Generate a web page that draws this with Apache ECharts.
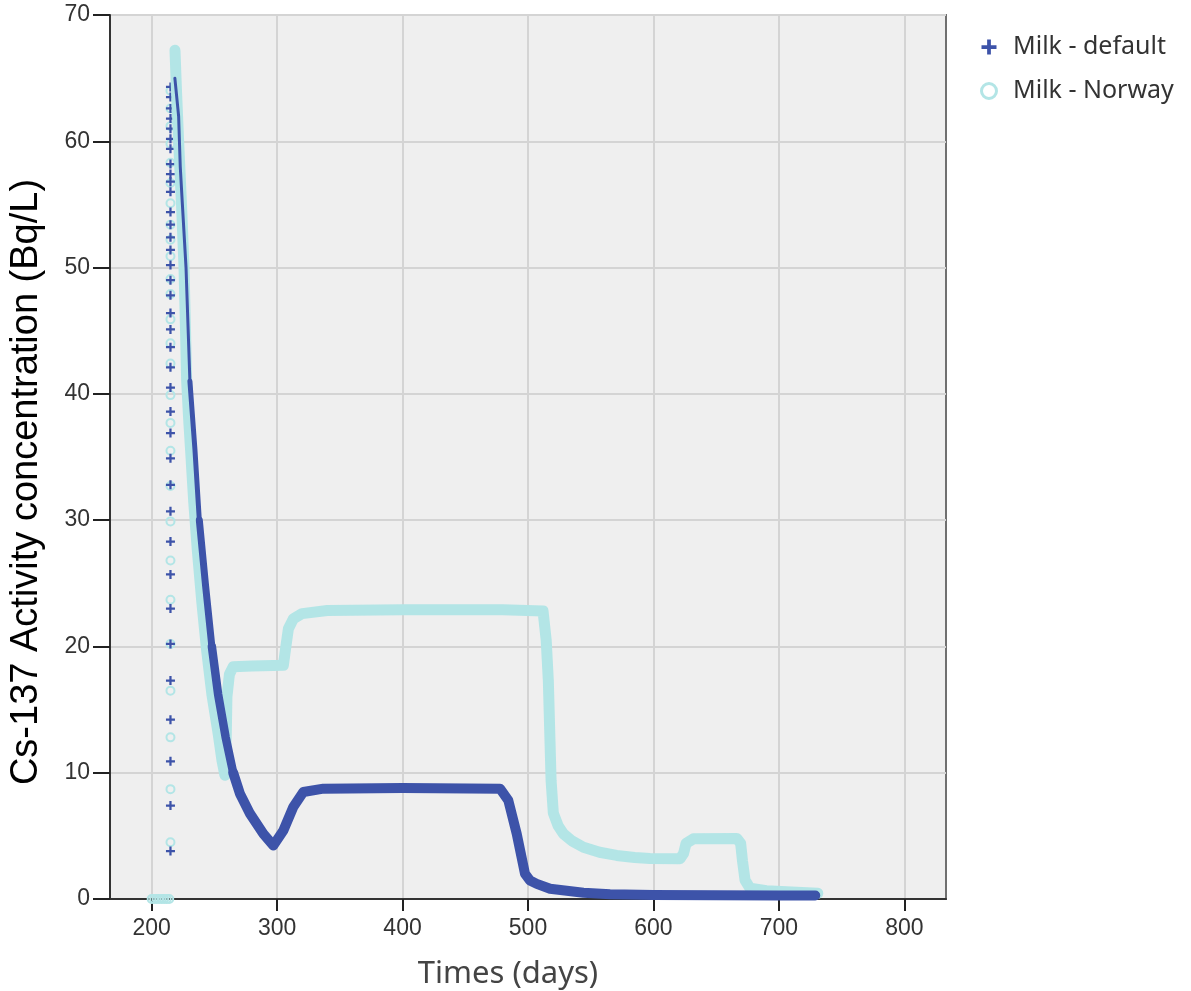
<!DOCTYPE html>
<html>
<head>
<meta charset="utf-8">
<script src="https://cdn.jsdelivr.net/npm/echarts@6/dist/echarts.min.js"></script>
<style>
html,body{margin:0;padding:0;background:#fff;}
#chart{width:1191px;height:991px;}
</style>
</head>
<body>
<div id="chart"></div>
<script>
// ---- data ----
const xTicks = [200, 300, 400, 500, 600, 700, 800];

// Milk - default : vertical rise of individual samples at day ~215
const defaultRiseDay = 215;
const defaultRiseValues = [3.8, 7.4, 10.9, 14.2, 17.3, 20.2, 23.0, 25.7, 28.3, 30.7, 32.8, 34.9,
  36.9, 38.6, 40.5, 42.1, 43.7, 45.1, 46.4, 47.8, 49.0, 50.2, 51.4, 52.4, 53.4, 54.4, 56.0,
  56.8, 57.4, 58.2, 59.4, 60.2, 61.0, 61.8, 62.6, 63.5, 64.3];

// Milk - default : dense curve after the peak
const defaultCurveDays = [218.5, 221.5, 222.8, 224.5, 227.4, 230.5, 234.5, 238, 243, 248, 253, 259, 265,
  270.4, 278.4, 289, 297, 305, 312.9, 320.9, 336.9, 400, 477.7, 484.3, 491, 497.6, 501.6, 507,
  517.6, 544.2, 565.4, 600, 650, 700, 729];
const defaultCurveValues = [65.0, 62.0, 58.0, 55.0, 50.0, 41.0, 35.6, 30.0, 24.8, 20.0, 16.2, 12.8, 10.0,
  8.34, 6.76, 5.17, 4.24, 5.43, 7.28, 8.47, 8.74, 8.78, 8.74, 7.81, 5.17, 2.0, 1.47, 1.2,
  0.81, 0.5, 0.38, 0.32, 0.3, 0.28, 0.28];

// Milk - Norway : samples at zero before the rise, and the vertical rise at day ~215
const norwayBaseDays = [200, 202, 204, 206, 208, 210, 212, 214];
const norwayBaseValues = [0, 0, 0, 0, 0, 0, 0, 0];
const norwayRiseDay = 215;
const norwayRiseValues = [4.5, 8.7, 12.8, 16.5, 20.2, 23.7, 26.8, 29.9, 32.7, 35.5, 37.7, 39.9,
  42.4, 44.0, 45.9, 47.9, 49.1, 50.9, 52.2, 53.4, 55.1, 56.7, 58.3, 59.8, 61.2, 62.6, 64.0];

// Milk - Norway : dense curve after the peak
const norwayCurveDays = [218.6, 219.8, 221.5, 223.8, 225.8, 227, 227.9, 229.5, 231, 233.5, 236.4, 240,
  243.8, 248, 253, 256, 258.4, 259.5, 260, 262, 265, 280, 305, 307, 309, 313, 320, 340, 400, 480,
  512, 514.5, 516.2, 518.4, 520.2, 524, 528.2, 535, 544.2, 557, 570.7, 585, 597.3, 621.2, 624,
  626, 631.8, 666.4, 669.5, 671, 673, 677, 690, 710, 731];
const norwayCurveValues = [67.2, 64.0, 60.0, 55.0, 50.0, 45.0, 41.0, 38.0, 35.6, 31.5, 27.6, 23.5,
  19.7, 16.2, 13.1, 11.0, 9.8, 13.0, 16.0, 17.8, 18.4, 18.45, 18.5, 20.0, 21.4, 22.2, 22.6, 22.85, 22.9, 22.9,
  22.8, 20.5, 17.3, 9.4, 6.8, 5.8, 5.17, 4.6, 4.1, 3.7, 3.45, 3.28, 3.2, 3.19, 3.6,
  4.4, 4.77, 4.8, 4.4, 3.0, 1.5, 0.85, 0.65, 0.55, 0.45];

// ---- build series data ----
const zip = (xs, ys) => xs.map((x, i) => [x, ys[i]]);
const defaultRise = defaultRiseValues.map(v => [defaultRiseDay, v]);
const norwayRise = zip(norwayBaseDays, norwayBaseValues).concat(norwayRiseValues.map(v => [norwayRiseDay, v]));
const defaultCurve = zip(defaultCurveDays, defaultCurveValues);

const DARK = '#3D53A9';
const LIGHT = '#B3E5E6';
const PLUS = 'path://M3,0h2v3h3v2h-3v3h-2v-3h-3v-2h3z';
const lineOf = (name, data, color, width) => ({
  name, type: 'line', data, showSymbol: false, symbol: 'none', smooth: false,
  lineStyle: {color, width, cap: 'round', join: 'round'}, itemStyle: {color}
});
// the sparse samples right after the peak look thinner than the dense tail:
// the default curve is drawn in consecutive pieces of growing stroke width
const defaultPieces = [[0, 5, 3], [5, 7, 5], [7, 9, 7], [9, 12, 8.5], [12, defaultCurve.length - 1, 10]];

const chart = echarts.init(document.getElementById('chart'), null, {renderer: 'canvas'});
chart.setOption({
  animation: false,
  backgroundColor: '#ffffff',
  grid: {
    left: 110, top: 15, right: 245, bottom: 92,
    show: true, backgroundColor: '#EFEFEF', borderColor: '#707070', borderWidth: 2,
    containLabel: false, outerBoundsMode: 'none'
  },
  legend: {
    orient: 'vertical', left: 975, top: 29,
    itemWidth: 38, itemHeight: 15, itemGap: 18,
    textStyle: {fontFamily: "'Noto Sans', 'Open Sans', sans-serif", fontSize: 25, color: '#333', lineHeight: 26},
    data: [
      {name: 'Milk - default', icon: PLUS, itemStyle: {color: DARK, opacity: 1}},
      {name: 'Milk - Norway', icon: 'circle', itemStyle: {color: 'rgba(0,0,0,0)', borderColor: LIGHT, borderWidth: 3, opacity: 1}}
    ]
  },
  xAxis: {
    type: 'value', min: 166.8, max: 833.2,
    name: 'Times (days)', nameLocation: 'middle', nameGap: 60,
    nameTextStyle: {fontFamily: "'Noto Sans', 'Open Sans', sans-serif", fontSize: 31, color: '#444', padding: [0, 40, 0, 0]},
    axisLine: {show: true, lineStyle: {color: '#333', width: 2}},
    axisTick: {show: true, length: 12, customValues: xTicks, lineStyle: {color: '#222', width: 2}},
    axisLabel: {customValues: xTicks, margin: 18, fontFamily: "Arial, 'Liberation Sans', sans-serif", fontSize: 23, color: '#333'},
    splitLine: {show: true, lineStyle: {color: '#D4D4D4', width: 2}}
  },
  yAxis: {
    type: 'value', min: 0, max: 70, interval: 10,
    name: 'Cs-137 Activity concentration (Bq/L)', nameLocation: 'middle', nameGap: 64,
    nameTextStyle: {fontFamily: "Arial, 'Liberation Sans', sans-serif", fontSize: 38, color: '#000', padding: [0, 50, 0, 0]},
    axisLine: {show: true, lineStyle: {color: '#333', width: 2}},
    axisTick: {show: true, length: 17, lineStyle: {color: '#222', width: 2}},
    axisLabel: {margin: 20, fontFamily: "Arial, 'Liberation Sans', sans-serif", fontSize: 23, color: '#333'},
    splitLine: {show: true, lineStyle: {color: '#D4D4D4', width: 2}}
  },
  series: [
    lineOf('Norway curve', zip(norwayCurveDays, norwayCurveValues), LIGHT, 11),
    {
      name: 'Milk - Norway', type: 'scatter', data: norwayRise,
      symbol: 'circle', symbolSize: 8,
      itemStyle: {color: 'rgba(0,0,0,0)', borderColor: LIGHT, borderWidth: 2, opacity: 1}
    }
  ].concat(
    defaultPieces.map(([a, b, w], i) => lineOf('Default curve ' + i, defaultCurve.slice(a, b + 1), DARK, w))
  ).concat([
    {
      name: 'Milk - default', type: 'scatter', data: defaultRise,
      symbol: PLUS, symbolSize: 9,
      itemStyle: {color: DARK, opacity: 1}
    }
  ])
});
</script>
</body>
</html>
